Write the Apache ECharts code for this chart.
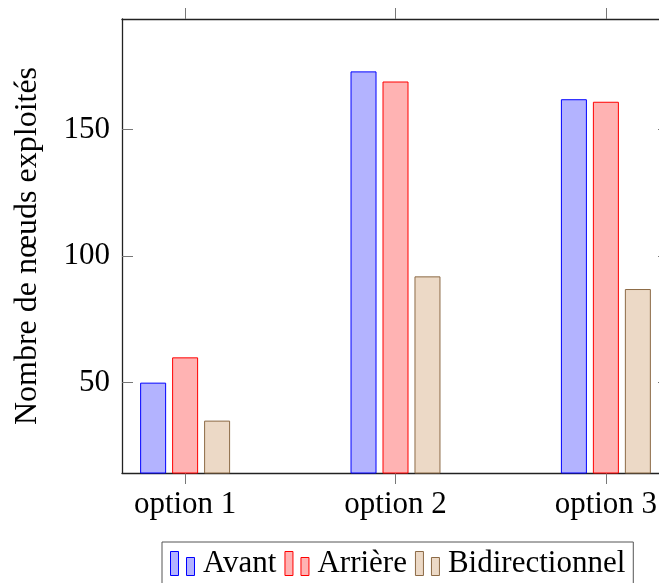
<!DOCTYPE html>
<html>
<head>
<meta charset="utf-8">
<script src="https://cdn.jsdelivr.net/npm/echarts@6/dist/echarts.min.js"></script>
<style>
  html, body { margin: 0; padding: 0; background: #fff; }
  #chart { width: 659px; height: 583px; }
</style>
</head>
<body>
<div id="chart"></div>
<script>
// Categories and number of explored nodes per search direction
const categories = ['option 1', 'option 2', 'option 3'];
const avant = [50, 173, 162];
const arriere = [60, 169, 161];
const bidirectionnel = [35, 92, 87];
const yTicks = [50, 100, 150];
const seriesNames = ['Avant', 'Arrière', 'Bidirectionnel'];

const FONT = '"Liberation Serif", "Times New Roman", serif';
const catIdx = categories.map((_, i) => i);

// Axis ranges enlarged by 15% of the data span on each side
const all = avant.concat(arriere, bidirectionnel);
const dMin = Math.min(...all), dMax = Math.max(...all);
const yMin = dMin - 0.15 * (dMax - dMin);
const yMax = dMax + 0.15 * (dMax - dMin);
const xMin = -0.15 * (categories.length - 1);
const xMax = (categories.length - 1) * 1.15;

const styles = [
  { fill: '#b3b3ff', stroke: '#0000ff' },
  { fill: '#ffb3b3', stroke: '#ff0000' },
  { fill: '#ecd9c6', stroke: '#8c6a46' }
];
const values = [avant, arriere, bidirectionnel];

const axisLine = { show: true, onZero: false, lineStyle: { color: '#222', width: 1.3 } };
const tickStyle = { color: '#777', width: 1 };

const chart = echarts.init(document.getElementById('chart'), null, { renderer: 'canvas' });
chart.setOption({
  animation: false,
  backgroundColor: '#fff',
  textStyle: { fontFamily: FONT },
  grid: { left: 122, top: 19, right: -10, bottom: 110, outerBoundsMode: 'none', containLabel: false },
  legend: {
    left: 162,
    top: 542,
    orient: 'horizontal',
    icon: 'path://M0,0h8v24h-8zM16,6h8v18h-8z',
    itemWidth: 25,
    itemHeight: 24,
    itemGap: 8,
    padding: [6, 8, 14, 8],
    borderColor: '#555',
    borderWidth: 1,
    textStyle: { fontFamily: FONT, fontSize: 31, color: '#000', padding: [0, 0, 0, 3] },
    data: seriesNames.map((n, i) => ({
      name: n,
      itemStyle: { color: styles[i].fill, borderColor: styles[i].stroke, borderWidth: 1 }
    }))
  },
  xAxis: [
    {
      type: 'value', position: 'bottom', min: xMin, max: xMax,
      axisLine: axisLine,
      splitLine: { show: false },
      axisTick: { show: true, inside: false, length: 11, lineStyle: tickStyle, customValues: catIdx },
      axisLabel: {
        show: true, customValues: catIdx, margin: 16,
        fontFamily: FONT, fontSize: 31, color: '#000',
        formatter: (v) => categories[Math.round(v)]
      }
    },
    {
      type: 'value', position: 'top', min: xMin, max: xMax,
      axisLine: axisLine,
      splitLine: { show: false },
      axisTick: { show: true, inside: false, length: 11, lineStyle: tickStyle, customValues: catIdx },
      axisLabel: { show: false }
    }
  ],
  yAxis: [
    {
      type: 'value', position: 'left', min: yMin, max: yMax,
      name: 'Nombre de nœuds exploités',
      nameLocation: 'middle',
      nameGap: 78,
      nameTextStyle: { fontFamily: FONT, fontSize: 32, color: '#000' },
      axisLine: axisLine,
      splitLine: { show: false },
      axisTick: { show: true, inside: true, length: 11, lineStyle: tickStyle, customValues: yTicks },
      axisLabel: { show: true, customValues: yTicks, margin: 12, fontFamily: FONT, fontSize: 31, color: '#000' }
    },
    {
      type: 'value', position: 'right', min: yMin, max: yMax,
      axisLine: axisLine,
      splitLine: { show: false },
      axisTick: { show: true, inside: true, length: 11, lineStyle: tickStyle, customValues: yTicks },
      axisLabel: { show: false }
    }
  ],
  series: seriesNames.map((n, i) => ({
    name: n,
    type: 'bar',
    xAxisIndex: 0,
    yAxisIndex: 0,
    barWidth: 26,
    barGap: '23%',
    clip: true,
    itemStyle: { color: styles[i].fill, borderColor: styles[i].stroke, borderWidth: 1 },
    data: values[i].map((v, k) => [catIdx[k], v])
  }))
});
</script>
</body>
</html>
